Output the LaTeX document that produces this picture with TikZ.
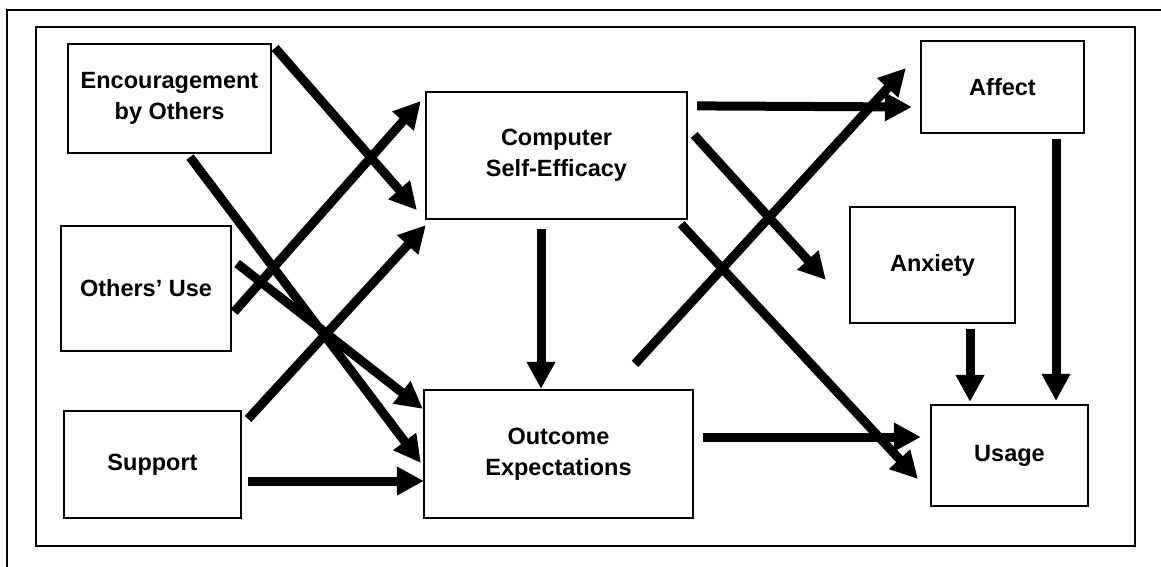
\documentclass[tikz,border=0pt]{standalone}
\usepackage{fontspec}
\setmainfont{Liberation Sans}
\usetikzlibrary{arrows.meta}
\tikzset{
  box/.style={draw, line width=2.2pt, fill=white, inner sep=0pt, align=center,
    font=\fontsize{23.5}{31}\selectfont\bfseries},
  arr/.style={line width=9pt, -{Triangle[length=27pt,width=27pt]}}
}
\begin{document}
\begin{tikzpicture}[x=1pt, y=-1pt]
\useasboundingbox (0,0) rectangle (1161,567);
% frames
\draw[line width=2pt] (7,567) -- (7,10) -- (1161,10);
\draw[line width=2.5pt] (36,27) rectangle (1135,546);
% boxes
\node[box, minimum width=203pt, minimum height=109pt] (enc) at (169.5,98.5) {Encouragement\\by Others};
\node[box, minimum width=170pt, minimum height=125pt] (oth) at (146,288.5) {Others' Use};
\node[box, minimum width=177pt, minimum height=107pt] (sup) at (152.5,464.5) {Support};
\node[box, minimum width=261pt, minimum height=127pt] (cse) at (556.5,155.5) {Computer\\Self-Efficacy};
\node[box, minimum width=269pt, minimum height=128pt] (out) at (558.5,454) {Outcome\\Expectations};
\node[box, minimum width=163pt, minimum height=92pt] (aff) at (1002.5,87) {Affect};
\node[box, minimum width=165pt, minimum height=116pt] (anx) at (932.5,265) {Anxiety};
\node[box, minimum width=157pt, minimum height=101pt] (use) at (1009.5,455.5) {Usage};
% paths
\draw[arr] ([shift={(3,5)}]enc.north east) -- ([shift={(-8,-10)}]cse.south west);
\draw[arr] ([shift={(20.5,3)}]enc.south) -- ([shift={(-2,9)}]out.west);
\draw[arr] ([shift={(5,-25)}]oth.east) -- ([shift={(0,20)}]out.north west);
\draw[arr] ([shift={(2,23.5)}]oth.east) -- ([shift={(-4,10)}]cse.north west);
\draw[arr] ([shift={(6,9)}]sup.north east) -- ([shift={(1,5)}]cse.south west);
\draw[arr] ([shift={(6,16.5)}]sup.east) -- ([shift={(1,27)}]out.west);
\draw[arr] ([shift={(-15.5,9)}]cse.south) -- ([shift={(-17.5,0)}]out.north);
\draw[arr] ([shift={(9,15)}]cse.north east) -- ([shift={(-8,20)}]aff.west);
\draw[arr] ([shift={(6,-20.5)}]cse.east) -- ([shift={(-23,15)}]anx.west);
\draw[arr] ([shift={(-7,4)}]cse.south east) -- ([shift={(-12,23.5)}]use.west);
\draw[arr] ([shift={(76.5,-25)}]out.north) -- ([shift={(-14,-19)}]aff.west);
\draw[arr] ([shift={(9,-17)}]out.east) -- ([shift={(-9,-18.5)}]use.west);
\draw[arr] ([shift={(37.5,5)}]anx.south) -- ([shift={(-39.5,-2)}]use.north);
\draw[arr] ([shift={(53.5,5)}]aff.south) -- ([shift={(46.5,-3)}]use.north);
\end{tikzpicture}
\end{document}
